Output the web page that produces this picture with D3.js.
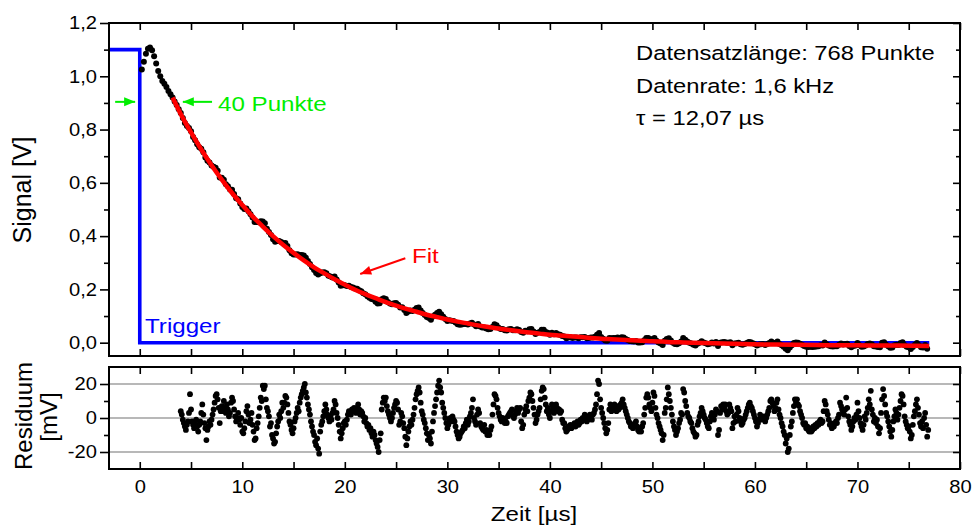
<!DOCTYPE html>
<html><head><meta charset="utf-8">
<script src="https://cdn.jsdelivr.net/npm/d3@7"></script>
<style>body{margin:0;background:#fff}svg text{font-family:"Liberation Sans",Arial,sans-serif}</style>
</head><body><svg id="c" width="972" height="528"></svg>
<script>
// ---------- data ----------
const xTicks = [0,10,20,30,40,50,60,70,80];
const xMinorTicks = [5,15,25,35,45,55,65,75];
const signalYTicks = [0,0.2,0.4,0.6,0.8,1.0,1.2];
const signalYMinor = [0.1,0.3,0.5,0.7,0.9,1.1];
const residYTicks = [-20,0,20];
const residYMinor = [-10,10];

const signalStart = 0.2, signalStep = 0.2; // µs
const signalV = [
1.025,1.055,1.085,1.103,1.108,1.098,1.075,1.048,1.020,1.000,0.982,0.972,0.960,0.945,0.933,0.920,0.905,0.892,0.876,
0.862,0.843,0.825,0.813,0.806, 0.794,0.772,0.760,0.745,0.734, 0.728,0.715,0.695,0.683,0.676,
0.665,0.660,0.657,0.645,0.620, 0.619,0.612,0.595,0.587,0.575, 0.574,0.558,0.542,0.538,0.522,
0.509,0.502,0.504,0.493,0.482, 0.470,0.453,0.453,0.452,0.456, 0.455,0.448,0.428,0.415,0.404,
0.388,0.379,0.382,0.382,0.378, 0.373,0.374,0.363,0.347,0.336, 0.331,0.331,0.332,0.329,0.329,
0.327,0.319,0.307,0.295,0.283, 0.273,0.262,0.256,0.261,0.263, 0.264,0.261,0.251,0.248,0.245,
0.248,0.237,0.226,0.214,0.216, 0.216,0.213,0.214,0.209,0.207, 0.203,0.202,0.197,0.193,0.186,
0.182,0.174,0.169,0.164,0.162, 0.154,0.147,0.148,0.163,0.167, 0.164,0.153,0.147,0.144,0.148,
0.149,0.142,0.132,0.133,0.123, 0.111,0.117,0.121,0.119,0.124, 0.130,0.132,0.121,0.111,0.104,
0.096,0.093,0.086,0.098,0.105, 0.111,0.116,0.107,0.097,0.089, 0.081,0.084,0.082,0.081,0.076,
0.069,0.067,0.068,0.070,0.070, 0.068,0.072,0.075,0.068,0.062, 0.070,0.061,0.057,0.057,0.053,
0.050,0.051,0.059,0.069,0.065, 0.056,0.051,0.051,0.047,0.046, 0.050,0.051,0.047,0.047,0.050,
0.048,0.040,0.037,0.045,0.043, 0.050,0.051,0.042,0.033,0.037, 0.040,0.049,0.049,0.040,0.037,
0.030,0.037,0.032,0.036,0.032, 0.030,0.025,0.023,0.017,0.019, 0.020,0.018,0.019,0.019,0.017,
0.020,0.020,0.021,0.017,0.018, 0.019,0.019,0.022,0.030,0.036, 0.021,0.015,0.008,0.007,0.018,
0.017,0.018,0.018,0.019,0.017, 0.020,0.019,0.014,0.010,0.006, 0.005,0.004,0.006,0.001,0.001,
0.002,0.009,0.018,0.018,0.011, 0.014,0.018,0.007,0.001,-0.003, -0.009,0.007,0.014,0.017,0.008,
0.000,-0.005,-0.006,-0.002,0.004, 0.018,0.011,0.004,0.000,-0.003, -0.008,-0.011,-0.004,0.000,0.005,
0.001,-0.002,-0.006,-0.004,0.001, -0.003,0.003,-0.012,0.000,0.002, 0.003,0.001,0.000,0.002,-0.010,
-0.003,-0.002,0.000,-0.006,-0.008, -0.005,-0.001,0.003,0.002,-0.002, -0.006,-0.011,-0.007,-0.006,-0.005,
-0.009,-0.005,-0.001,0.004,0.000, -0.001,0.004,-0.005,-0.010,-0.015, -0.023,-0.028,-0.018,-0.010,-0.001,
0.001,0.000,-0.004,-0.008,-0.012, -0.015,-0.016,-0.015,-0.016,-0.015, -0.014,-0.013,-0.010,-0.011,0.001,
-0.006,-0.011,-0.013,-0.014,-0.013, -0.013,-0.008,-0.003,-0.007,-0.005, -0.004,-0.012,-0.017,-0.012,-0.011,
-0.001,-0.010,-0.015,-0.014,-0.011, -0.005,-0.003,-0.006,-0.013,-0.014, -0.016,-0.017,0.000,0.002,-0.008,
-0.013,-0.019,-0.018,-0.010,-0.008, -0.009,-0.001,0.002,-0.010,-0.015, -0.017,-0.024,-0.016,-0.008,-0.001,
-0.010,-0.017,-0.018,-0.009,-0.023
];

const residStart = 4.0, residStep = 0.1; // µs
const residMV = [
4,2,-1,-3,-5,-7,-4,-2,3,14, 5,-2,-4,-6,-3,-1,-5,-8,-4,-2, 3,8,2,-3,-6,-13,-7,-5,-2,-4,
-1,2,5,9,13,14,11,6,-3,4, 7,4,10,6,3,8,5,1,3,9, 12,10,5,1,-2,0,3,-1,-4,0,
-8,-9,-6,-2,4,7,2,-3,-1,3, -4,-8,-13,-12,-6,-3,1,6,12,10, 19,17,19,11,6,4,1,-5,-3,-10,
-12,-15,-14,-9,-5,-2,2,0,4,9, 6,9,13,12,8,3,-2,-4,-7,-9, -6,-2,0,3,6,4,9,12,14,16,
18,20,15,12,8,5,2,-2,-5,-8, -10,-14,-16,-12,-18,-21,-8,-4,-2,1, 4,8,5,2,0,-2,1,-1,3,5,
10,8,3,0,-4,-8,-12,-9,-6,-3, -2,-4,-1,2,4,3,2,5,4,6, 4,3,6,8,5,2,4,3,1,-2,
0,-3,-5,-4,-7,-6,-9,-11,-8,-10, -13,-15,-17,-20,-13,-9,5,9,12,10, 12,7,4,2,0,-2,0,3,6,8,
10,9,5,-4,-2,3,1,-3,-6,-11, -16,-12,-8,-5,-2,-4,-1,2,6,11, 14,16,18,15,9,4,2,-1,-3,-6,
-9,-13,-10,-12,-15,-8,-2,3,7,11, 15,19,22,18,15,9,6,3,0,-3, -6,-4,-1,0,-2,1,-1,-2,-5,-8,
-10,-12,-11,-9,-8,-7,-5,-6,-3,-1, -4,-2,1,3,6,11,0,-2,-4,2, 5,3,-3,-5,-6,-7,-4,-8,-7,-10,
-9,-10,-7,-5,2,8,14,13,11,6, 3,1,-1,-2,0,-1,-3,-2,-3,1, 2,3,4,5,1,0,2,4,6,3,
5,6,-2,-6,-4,2,5,7,4,10, 12,15,14,10,6,2,-3,-1,2,4, 6,11,16,18,17,12,8,4,6,2,
0,4,8,6,3,5,8,6,4,5, 3,4,-1,-3,-3,-6,-8,-7,-5,-6, -4,-6,-5,-4,-3,-5,-3,-2,-4,-3,
-1,-2,0,-1,2,1,-2,-1,0,2, 1,-1,2,3,5,8,14,22,20,11, 6,3,0,-3,-6,-9,-7,-3,5,8,
4,6,5,8,6,4,7,5,6,8, 9,11,8,6,4,2,0,-2,-3,-5, -4,-6,-5,-3,-2,-5,-7,-8,-6,-8,
-5,-3,2,6,12,14,12,8,6,4, 9,15,13,6,2,0,-3,-5,-7,-9, -13,-10,3,6,11,18,14,10,6,2,
-2,-5,-7,-10,-8,-6,-3,-1,3,2, 17,15,10,7,3,1,0,-2,-3,-6, -8,-9,-11,-10,-4,-2,1,3,6,4,
2,0,-1,-3,-5,-6,-2,1,3,0, -1,2,5,4,-10,-7,3,7,5,8, 6,8,4,2,3,8,6,4,-6,-3,
1,-2,2,6,4,0,-2,-4,-3,-1, 0,2,4,6,8,9,7,6,4,2, 0,-2,-5,-3,-1,2,0,-1,1,0,
-2,0,2,4,6,10,11,9,7,4, 6,9,11,5,2,0,-3,-5,-8,-10, -15,-12,-20,-18,-10,-5,-2,3,7,11,
9,11,8,7,4,2,0,-3,-4,-3, -6,-5,-7,-8,-6,-8,-7,-5,-6,-4, -5,-3,-4,-2,-1,-3,-2,4,10,8,
4,2,-1,-4,-3,-6,-4,-5,-3,-2, -3,0,2,9,7,5,3,2,5,12, 6,1,-2,-4,-7,-5,-2,0,-1,2,
9,4,0,-3,-5,-7,-4,1,-1,3, 6,11,8,16,5,2,-2,0,-3,-1, -5,-9,-6,3,11,17,13,8,3,1,
-2,-5,-8,-11,-7,-2,1,5,3,-1, 2,6,10,14,13,8,1,-2,-4,-6, -5,-8,-12,-10,-4,1,4,8,11,6,
2,-3,-5,-2,-6,0,3,-4,-11,-7
];

const fitT = [3.2,4,5,6,7,8,9,10,11,12,13,14,15,16,17,18,19,20,21,22,23,24,25,26,27,28,29,30,
31,32,33,34,35,36,37,38,39,40,41,42,43,44,45,46,47,48,49,50,51,52,53,54,55,56,57,58,59,60,
62,64,66,68,70,72,74,77];
const fitV = [0.920,0.858,0.789,0.725,0.666,0.612,0.562,0.517,0.474,0.436,0.400,0.367,0.337,0.309,
0.283,0.260,0.238,0.218,0.199,0.182,0.167,0.152,0.139,0.127,0.116,0.105,0.096,0.087,0.079,0.072,
0.065,0.059,0.053,0.048,0.043,0.038,0.034,0.030,0.027,0.024,0.021,0.018,0.015,0.013,0.011,0.009,
0.007,0.005,0.004,0.002,0.001,0.000,-0.001,-0.002,-0.003,-0.004,-0.005,-0.006,
-0.007,-0.008,-0.009,-0.010,-0.010,-0.011,-0.011,-0.012];

const triggerT = [-3,0,0,77];
const triggerV = [1.1,1.1,0,0];

const infoLines = ["Datensatzlänge: 768 Punkte","Datenrate: 1,6 kHz","τ = 12,07 µs"];

// ---------- layout ----------
const svg = d3.select("#c");
const L = 109, R = 960, T1 = 23, B1 = 356, T2 = 367, B2 = 469;
const FONT = '"Liberation Sans",Arial,sans-serif';
const x = d3.scaleLinear().domain([-3,80]).range([L,R]);
const yS = d3.scaleLinear().domain([-0.05,1.2]).range([B1,T1]);
const yR = d3.scaleLinear().domain([-30,30]).range([B2,T2]);
const loc = d3.formatLocale({decimal:",",thousands:".",grouping:[3],currency:["","€"],minus:"-"});
const f1 = loc.format(".1f"), fd = loc.format("d");

const signal = signalV.map((v,i)=>({t: signalStart + i*signalStep, v}));
const resid = residMV.map((v,i)=>({t: residStart + i*residStep, v}));
const fit = fitT.map((t,i)=>({t, v: fitV[i]}));
const trig = triggerT.map((t,i)=>({t, v: triggerV[i]}));

// residual grid lines
svg.append("g").selectAll("line").data(residYTicks).join("line")
  .attr("x1",L).attr("x2",R).attr("y1",d=>yR(d)).attr("y2",d=>yR(d))
  .attr("stroke","#a0a0a0").attr("stroke-width",1.6);

function styleAxis(g, size, sx){
  g.select(".domain").remove();
  g.selectAll(".tick line").attr("stroke","#000").attr("stroke-width",1.6);
  g.selectAll(".tick text").attr("font-size",size).attr("font-family",FONT).attr("fill","#000")
    .each(function(){
      const t = d3.select(this);
      const xx = +t.attr("x") || 0;
      t.attr("x", xx/sx).attr("transform",`scale(${sx},1)`);
    });
}
const TS = 18, TSX = 1.12;

// top panel axes
svg.append("g").attr("transform",`translate(${L},0)`)
  .call(d3.axisLeft(yS).tickValues(signalYTicks).tickSize(9).tickPadding(3).tickFormat(f1))
  .call(g=>styleAxis(g,TS,TSX));
svg.append("g").attr("transform",`translate(${L},0)`)
  .call(d3.axisLeft(yS).tickValues(signalYMinor).tickSize(5).tickFormat(""))
  .call(g=>styleAxis(g,TS,1));
svg.append("g").attr("transform",`translate(${R},0)`)
  .call(d3.axisLeft(yS).tickValues(signalYTicks).tickSize(7).tickFormat(""))
  .call(g=>styleAxis(g,TS,1));
svg.append("g").attr("transform",`translate(${R},0)`)
  .call(d3.axisLeft(yS).tickValues(signalYMinor).tickSize(4).tickFormat(""))
  .call(g=>styleAxis(g,TS,1));
svg.append("g").attr("transform",`translate(0,${T1})`)
  .call(d3.axisBottom(x).tickValues(xTicks.concat(xMinorTicks)).tickSize(7).tickFormat(""))
  .call(g=>styleAxis(g,TS,1));
svg.append("g").attr("transform",`translate(0,${B1})`)
  .call(d3.axisTop(x).tickValues(xTicks.concat(xMinorTicks)).tickSize(7).tickFormat(""))
  .call(g=>styleAxis(g,TS,1));

// residual axes
svg.append("g").attr("transform",`translate(${L},0)`)
  .call(d3.axisLeft(yR).tickValues(residYTicks).tickSize(9).tickPadding(3).tickFormat(fd))
  .call(g=>styleAxis(g,TS,TSX));
svg.append("g").attr("transform",`translate(${L},0)`)
  .call(d3.axisLeft(yR).tickValues(residYMinor).tickSize(5).tickFormat(""))
  .call(g=>styleAxis(g,TS,1));
svg.append("g").attr("transform",`translate(${R},0)`)
  .call(d3.axisLeft(yR).tickValues(residYTicks).tickSize(7).tickFormat(""))
  .call(g=>styleAxis(g,TS,1));
svg.append("g").attr("transform",`translate(${R},0)`)
  .call(d3.axisLeft(yR).tickValues(residYMinor).tickSize(4).tickFormat(""))
  .call(g=>styleAxis(g,TS,1));
svg.append("g").attr("transform",`translate(0,${T2})`)
  .call(d3.axisBottom(x).tickValues(xTicks.concat(xMinorTicks)).tickSize(7).tickFormat(""))
  .call(g=>styleAxis(g,TS,1));
svg.append("g").attr("transform",`translate(0,${B2})`)
  .call(d3.axisTop(x).tickValues(xTicks.concat(xMinorTicks)).tickSize(7).tickFormat(""))
  .call(g=>styleAxis(g,TS,1));
svg.append("g").attr("transform",`translate(0,${B2})`)
  .call(d3.axisBottom(x).tickValues(xTicks).tickSize(0).tickPadding(11).tickFormat(d=>fd(d)))
  .call(g=>styleAxis(g,TS,TSX));

// trigger line
svg.append("path").datum(trig)
  .attr("d", d3.line().x(d=>x(d.t)).y(d=>yS(d.v)))
  .attr("fill","none").attr("stroke","#0000ff").attr("stroke-width",3.6);

// signal dots
svg.append("g").selectAll("circle").data(signal).join("circle")
  .attr("cx",d=>x(d.t)).attr("cy",d=>yS(d.v)).attr("r",3.0).attr("fill","#000");

// fit line
svg.append("path").datum(fit)
  .attr("d", d3.line().curve(d3.curveMonotoneX).x(d=>x(d.t)).y(d=>yS(d.v)))
  .attr("fill","none").attr("stroke","#ff0000").attr("stroke-width",4.5).attr("stroke-linecap","butt");

// residual dots
svg.append("g").selectAll("circle").data(resid).join("circle")
  .attr("cx",d=>x(d.t)).attr("cy",d=>yR(d.v)).attr("r",2.9).attr("fill","#000");

// frames
[[T1,B1],[T2,B2]].forEach(([a,b])=>{
  svg.append("rect").attr("x",L).attr("y",a).attr("width",R-L).attr("height",b-a)
    .attr("fill","none").attr("stroke","#000").attr("stroke-width",2);
});

// text helper (horizontal stretch as in the reference)
function stext(str, px, py, size, sx, color, anchor){
  return svg.append("text").attr("transform",`translate(${px},${py}) scale(${sx},1)`)
    .attr("font-size",size).attr("font-family",FONT).attr("fill",color||"#000")
    .attr("text-anchor",anchor||"start").text(str);
}
function arrow(x1,y1,x2,y2,color){
  svg.append("line").attr("x1",x1).attr("y1",y1).attr("x2",x2).attr("y2",y2)
    .attr("stroke",color).attr("stroke-width",2);
  const a = Math.atan2(y2-y1,x2-x1), hl = 11, hw = 4.5;
  const bx = x2 - hl*Math.cos(a), by = y2 - hl*Math.sin(a);
  const px = -Math.sin(a)*hw, py = Math.cos(a)*hw;
  svg.append("path").attr("d",`M${x2},${y2}L${bx+px},${by+py}L${bx-px},${by-py}Z`).attr("fill",color);
}

// info box
infoLines.forEach((s,i)=> stext(s, 636, 60 + i*32.5, 20.5, 1.16, "#000"));

// annotations
const green = "#00ee00";
arrow(x(-2.4), yS(0.904), x(-0.45), yS(0.904), green);
arrow(x(7.05), yS(0.904), x(4.2), yS(0.904), green);
stext("40 Punkte", 218, 110.5, 21, 1.15, green);
stext("Trigger", 145, 333, 21, 1.15, "#0000ff");
arrow(x(25.9), yS(0.317), x(21.5), yS(0.258), "#ff0000");
stext("Fit", 412, 263, 21, 1.15, "#ff0000");

// axis titles
stext("Zeit [µs]", 534, 521, 21, 1.15, "#000", "middle");
svg.append("text").attr("transform","translate(31,190) rotate(-90)")
  .attr("font-size",25).attr("font-family",FONT).attr("text-anchor","middle").text("Signal [V]");
svg.append("text").attr("transform","translate(32,416) rotate(-90)")
  .attr("font-size",24).attr("font-family",FONT).attr("text-anchor","middle").text("Residuum");
svg.append("text").attr("transform","translate(57,417) rotate(-90)")
  .attr("font-size",24).attr("font-family",FONT).attr("text-anchor","middle").text("[mV]");
</script></body></html>
